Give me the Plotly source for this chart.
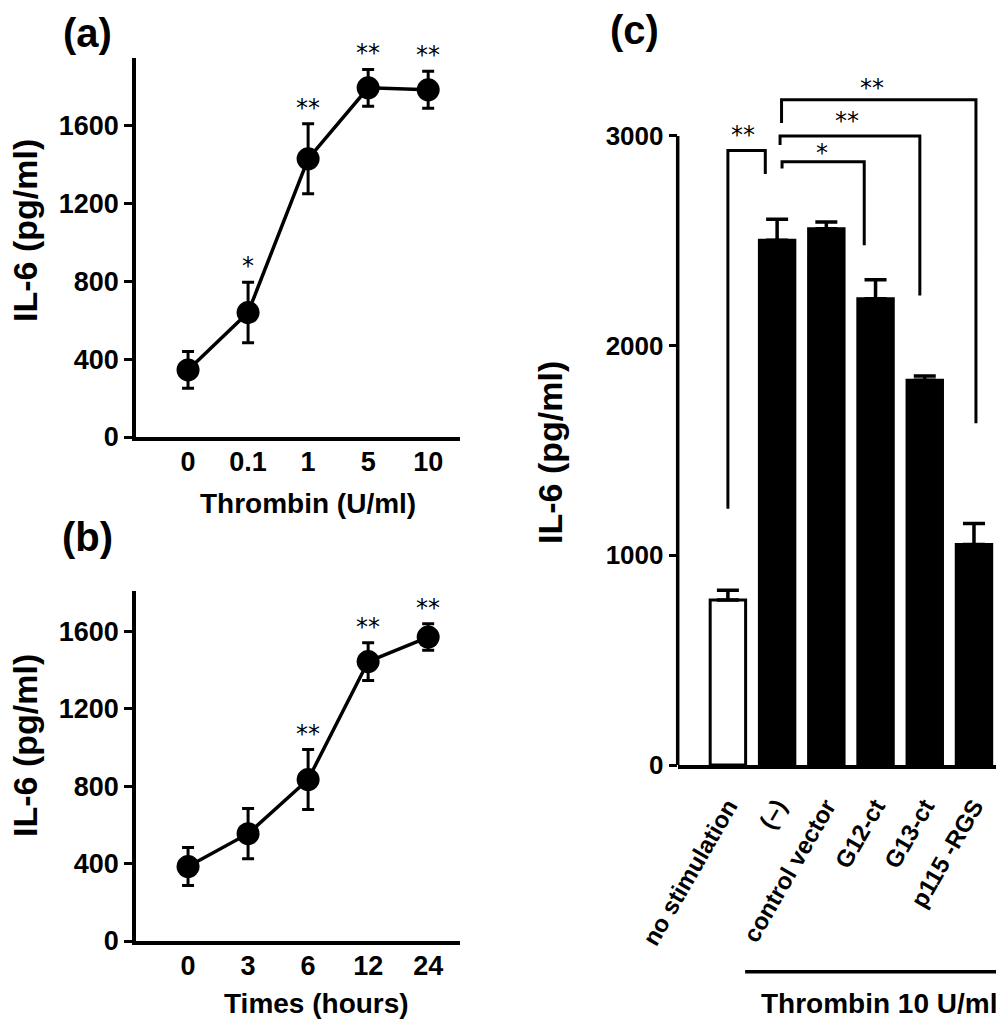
import plotly.graph_objects as go

# ---------------- data ----------------
# panel (a): thrombin dose
dose_labels = ["0", "0.1", "1", "5", "10"]
dose_mean = [345, 640, 1430, 1795, 1785]
dose_err = [95, 155, 180, 95, 95]
dose_stars = ["", "*", "**", "**", "**"]

# panel (b): time course
time_labels = ["0", "3", "6", "12", "24"]
time_mean = [385, 555, 835, 1445, 1572]
time_err = [98, 130, 155, 98, 68]
time_stars = ["", "", "**", "**", "**"]

# panel (c): bars
bar_labels = ["no stimulation", "(\u2013)", "control vector", "G12-ct", "G13-ct", "p115 -RGS"]
bar_mean = [787, 2502, 2557, 2223, 1835, 1052]
bar_err = [46, 101, 33, 91, 20, 100]
bar_fill = ["white", "black", "black", "black", "black", "black"]

# significance brackets in panel (c)
br_left = [0.0, 1.10, 1.06, 1.09]
br_right = [0.76, 2.77, 3.90, 5.04]
br_top = [2930, 2877, 3000, 3172]
br_left_end = [1222, 2845, 2957, 3061]
br_right_end = [2818, 2478, 2239, 1630]
br_text = ["**", "*", "**", "**"]
br_text_x = [0.31, 1.92, 2.41, 2.92]
br_text_y = [3005, 2917, 3069, 3228]

FONT = "Liberation Sans, Arial, Helvetica, sans-serif"
STAR_FONT = "DejaVu Sans, sans-serif"
W, H = 1004, 1023
OFF = 8  # page body margin

def px_x(p):
    return (p - OFF) / W

def px_y(p):
    return 1 - (p - OFF) / H

fig = go.Figure()

pos5 = list(range(5))

fig.add_trace(go.Scatter(
    x=pos5, y=dose_mean, mode="lines+markers",
    line=dict(color="black", width=3.5),
    marker=dict(color="black", size=23, symbol="circle"),
    error_y=dict(type="data", array=dose_err, color="black", thickness=3, width=6),
    xaxis="x", yaxis="y", showlegend=False, cliponaxis=False,
))
fig.add_trace(go.Scatter(
    x=pos5, y=time_mean, mode="lines+markers",
    line=dict(color="black", width=3.5),
    marker=dict(color="black", size=23, symbol="circle"),
    error_y=dict(type="data", array=time_err, color="black", thickness=3, width=6),
    xaxis="x2", yaxis="y2", showlegend=False, cliponaxis=False,
))
pos6 = list(range(6))
fig.add_trace(go.Bar(
    x=pos6, y=bar_mean, width=0.72,
    marker=dict(color=bar_fill, line=dict(color="black", width=3)),
    error_y=dict(type="data", symmetric=False, array=bar_err, arrayminus=[0] * 6,
                 color="black", thickness=3.5, width=11),
    xaxis="x3", yaxis="y3", showlegend=False,
))

tickfont = dict(family=FONT, size=27, color="black", weight="bold")
common_x = dict(showline=True, linecolor="black", linewidth=3.5, ticks="", automargin=False,
                showgrid=False, zeroline=False, tickfont=tickfont, ticklabelstandoff=-2)
common_y = dict(showline=True, linecolor="black", linewidth=3.5, ticks="outside", automargin=False,
                ticklen=8, tickwidth=3, tickcolor="black",
                showgrid=False, zeroline=False, tickfont=tickfont)

xdom = [px_x(136), px_x(460)]
xr = [-0.867, 4.53]

fig.update_layout(
    width=W, height=H, margin=dict(l=0, r=0, t=0, b=0, autoexpand=False),
    paper_bgcolor="white", plot_bgcolor="white",
    xaxis=dict(domain=xdom, range=xr, tickvals=pos5, ticktext=dose_labels, anchor="y", **common_x),
    yaxis=dict(domain=[px_y(437), px_y(58.3)], range=[0, 1947],
               tickvals=[0, 400, 800, 1200, 1600], anchor="x", **common_y),
    xaxis2=dict(domain=xdom, range=xr, tickvals=pos5, ticktext=time_labels, anchor="y2", **common_x),
    yaxis2=dict(domain=[px_y(941), px_y(591)], range=[0, 1810],
                tickvals=[0, 400, 800, 1200, 1600], anchor="x2", **common_y),
    xaxis3=dict(domain=[px_x(677.7), px_x(1004)], range=[-1.02, 5.61], tickvals=pos6,
                ticktext=bar_labels,
                tickangle=-60, anchor="y3", showline=True, linecolor="black", linewidth=3.5,
                ticks="", showgrid=False, zeroline=False, automargin=False,
                tickfont=dict(family=FONT, size=24, color="black", weight="bold"),
                ticklabelstandoff=14),
    yaxis3=dict(domain=[px_y(765), px_y(73)], range=[0, 3300], tickvals=[0, 1000, 2000, 3000],
                anchor="x3", showline=False, ticks="outside", ticklen=8, tickwidth=3,
                tickcolor="black", showgrid=False, zeroline=False, automargin=False,
                tickfont=dict(family=FONT, size=26, color="black", weight="bold")),
    bargap=0.25,
)

# y axis line of panel (c) only up to 3000
fig.add_shape(type="line", xref="x3 domain", yref="y3", x0=0, x1=0, y0=0, y1=3000,
              line=dict(color="black", width=3.5))

# brackets
for i in range(len(br_left)):
    path = (f"M {br_left[i]},{br_left_end[i]} L {br_left[i]},{br_top[i]} "
            f"L {br_right[i]},{br_top[i]} L {br_right[i]},{br_right_end[i]}")
    fig.add_shape(type="path", xref="x3", yref="y3", path=path,
                  line=dict(color="black", width=3))
    fig.add_annotation(x=br_text_x[i], y=br_text_y[i], xref="x3", yref="y3", text=br_text[i],
                       showarrow=False, yanchor="middle",
                       font=dict(family=STAR_FONT, size=24, color="black"))

# stars on line plots
for i in range(5):
    if dose_stars[i]:
        fig.add_annotation(x=i, y=dose_mean[i] + dose_err[i], xref="x", yref="y",
                           text=dose_stars[i], showarrow=False, yanchor="middle", yshift=16,
                           font=dict(family=STAR_FONT, size=24, color="black"))
    if time_stars[i]:
        fig.add_annotation(x=i, y=time_mean[i] + time_err[i], xref="x2", yref="y2",
                           text=time_stars[i], showarrow=False, yanchor="middle", yshift=16,
                           font=dict(family=STAR_FONT, size=24, color="black"))

def label(text, x, y, size, angle=0):
    fig.add_annotation(x=px_x(x), y=px_y(y), xref="paper", yref="paper", text=text,
                       showarrow=False, xanchor="center", yanchor="middle", textangle=angle,
                       font=dict(family=FONT, size=size, color="black", weight="bold"))

label("(a)", 87, 33, 40)
label("(b)", 87, 537, 40)
label("(c)", 634, 30, 40)
label("IL-6 (pg/ml)", 25, 231, 34, -90)
label("IL-6 (pg/ml)", 25, 746, 34, -90)
label("IL-6 (pg/ml)", 550, 453, 34, -90)
label("Thrombin (U/ml)", 308, 503, 28)
label("Times (hours)", 316, 1003, 28)
label("Thrombin 10 U/ml", 879, 1003, 28)

fig.add_shape(type="line", xref="x3", yref="paper", x0=0.35, x1=5.6,
              y0=px_y(971.7), y1=px_y(971.7), line=dict(color="black", width=3.5))

fig.write_html("out.html")
